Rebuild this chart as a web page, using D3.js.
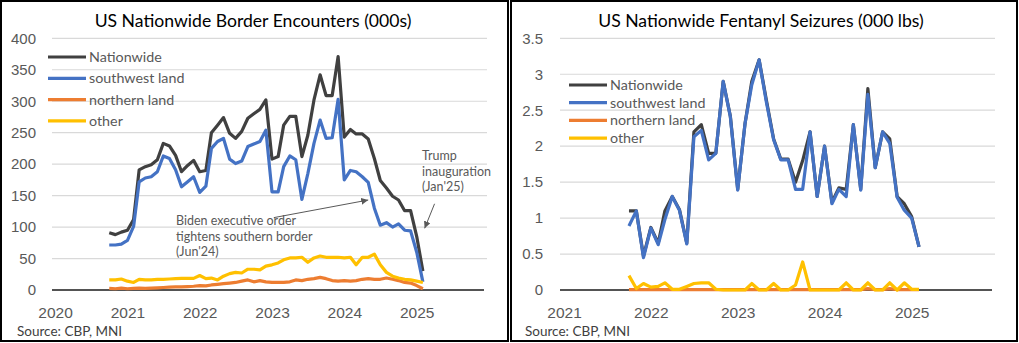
<!DOCTYPE html>
<html>
<head>
<meta charset="utf-8">
<script src="https://cdn.jsdelivr.net/npm/d3@7"></script>
<style>
  body { margin: 0; background: #fff; }
  svg { display: block; font-family: Lato, "Liberation Sans", sans-serif; }
</style>
</head>
<body>
<svg width="1019" height="343"></svg>
<script>
// legend / series
const seriesNames = ["Nationwide", "southwest land", "northern land", "other"];
const seriesColors = ["#404040", "#4472C4", "#ED7D31", "#FFC000"];

// border encounters, thousands, Oct 2020 - Feb 2025
const encMonths = d3.timeMonth.range(new Date(2020, 9, 1), new Date(2025, 2, 2));
const encNationwide = [91,88,92,95,112,191,196,199,207,233,229,214,188,198,206,188,190,250,262,274,249,241,252,273,280,287,302,208,212,262,276,276,212,246,302,342,309,309,371,243,255,248,248,240,209,174,162,149,143,126,126,85,30];
const encSouthwest = [71.5,71.5,73,79,101,172,178,180,188,213,209,191,164,172,180,155,165,225,236,241,208,201,205,228,232,236,254,156,156,196,213,207,144,185,233,270,241,242,303,175,190,188,180,171,130,103,107,100,105,95,94,60,13];
const encNorthern = [2.5,2,3,2,2.5,3,2.5,3,3.5,4,4.5,5,5,5.5,6,7,6.5,8,9,10,11,12,14,16,13,15,13,12,12,12,13,16,15,17,18,20,18,15,14,15,14,15,17,18,17,17,19,17,15,12,11,7,2];
const encOther = [16,16,17.5,14,12,17,16,16,17,17,17.5,18,18.5,18.5,18.5,23,18,19,16,22,26,28,27,33,33,32,38,40,43,48,51,51,52,44,51,54,52,52,52,51,52,40,52,52,57,40,28,22,19,17,16,14,12];
const encYears = [2020, 2021, 2022, 2023, 2024, 2025];
const encYTicks = [0, 50, 100, 150, 200, 250, 300, 350, 400];

// fentanyl seizures, thousand lbs, Oct 2021 - Feb 2025
const fenMonths = d3.timeMonth.range(new Date(2021, 9, 1), new Date(2025, 2, 2));
const fenNationwide = [1.1,1.1,0.47,0.87,0.65,1.1,1.3,1.12,0.65,2.2,2.3,1.9,1.9,2.9,2.42,1.4,2.32,2.9,3.2,2.65,2.1,1.82,1.82,1.5,1.8,2.2,1.3,2.0,1.22,1.42,1.4,2.3,1.4,2.8,1.7,2.2,2.1,1.3,1.2,1.02,0.6];
const fenSouthwest = [0.89,1.1,0.45,0.86,0.63,0.98,1.3,1.11,0.64,2.13,2.22,1.81,1.9,2.9,2.41,1.39,2.32,2.85,3.2,2.62,2.09,1.81,1.81,1.4,1.4,2.2,1.3,2.0,1.2,1.4,1.3,2.3,1.39,2.72,1.7,2.2,2.04,1.29,1.11,1.0,0.6];
const fenNorthern = [0.005,0.005,0.005,0.005,0.005,0.005,0.005,0.005,0.005,0.005,0.005,0.005,0.005,0.005,0.005,0.005,0.005,0.005,0.005,0.005,0.005,0.005,0.005,0.005,0.005,0.005,0.005,0.005,0.005,0.005,0.005,0.005,0.005,0.02,0.005,0.005,0.02,0.005,0.005,0.005,0.005];
const fenOther = [0.2,0.02,0.09,0.04,0.05,0.1,0.01,0.01,0.05,0.09,0.1,0.1,0.01,0,0,0,0,0.09,0,0,0.09,0,0,0.07,0.39,0,0,0,0,0,0.1,0,0,0.1,0,0,0.1,0,0.1,0.01,0.01];
const fenYears = [2021, 2022, 2023, 2024, 2025];
const fenYTicks = [0, 0.5, 1, 1.5, 2, 2.5, 3, 3.5];

const svg = d3.select("svg");

// panel frames
svg.append("rect").attr("x", 1).attr("y", 1).attr("width", 507).attr("height", 340)
  .attr("fill", "none").attr("stroke", "#000").attr("stroke-width", 2);
svg.append("rect").attr("x", 511).attr("y", 1).attr("width", 506).attr("height", 340)
  .attr("fill", "none").attr("stroke", "#000").attr("stroke-width", 2);

function drawPanel(p) {
  const g = svg.append("g");

  const x = d3.scaleTime()
    .domain([new Date(p.years[0], 0, 1), new Date(p.years[p.years.length - 1] + 1, 0, 1)])
    .range(p.xRange);
  const y = d3.scaleLinear()
    .domain([0, p.yTicks[p.yTicks.length - 1]])
    .range([290, 38.3]);

  // gridlines
  g.selectAll(".grid")
    .data(p.yTicks.slice(1))
    .enter()
    .append("line")
    .attr("x1", p.left).attr("x2", p.right)
    .attr("y1", d => y(d)).attr("y2", d => y(d))
    .style("stroke", "#d9d9d9")
    .style("stroke-width", "1.2px");

  // y axis labels
  const yAxis = g.append("g")
    .attr("transform", `translate(${p.left},0)`)
    .call(d3.axisLeft(y).tickValues(p.yTicks).tickSize(0).tickPadding(p.yPad).tickFormat(d3.format("")));
  yAxis.select(".domain").remove();
  yAxis.selectAll("text").style("font-size", "15px").style("fill", "#595959").style("font-family", null);

  // x axis labels
  const xAxis = g.append("g")
    .attr("transform", "translate(0,290)")
    .call(d3.axisBottom(x).tickValues(p.years.map(yr => new Date(yr, 0, 1)))
      .tickSize(0).tickPadding(17).tickFormat(d3.timeFormat("%Y")));
  xAxis.select(".domain").remove();
  xAxis.selectAll("text").style("font-size", "15.5px").style("fill", "#595959").style("font-family", null);

  // baseline
  g.append("line")
    .attr("x1", p.left).attr("x2", p.axisRight)
    .attr("y1", y(0)).attr("y2", y(0))
    .style("stroke", "#1a1a1a")
    .style("stroke-width", "1.5px");

  // series
  const line = d3.line()
    .x((d, i) => x(p.months[i]))
    .y(d => y(d));

  p.series.forEach((s, k) => {
    g.append("path")
      .datum(s)
      .attr("d", line)
      .style("fill", "none")
      .style("stroke", seriesColors[k])
      .style("stroke-width", "3.2px")
      .style("stroke-linejoin", "round");
  });

  // legend
  seriesNames.forEach((name, k) => {
    const ly = p.legendY + k * p.legendStep;
    g.append("line")
      .attr("x1", p.legendX).attr("x2", p.legendX + 38)
      .attr("y1", ly).attr("y2", ly)
      .style("stroke", seriesColors[k])
      .style("stroke-width", "3.2px");
    g.append("text")
      .attr("x", p.legendX + 41).attr("y", ly + 5)
      .style("font-size", "14.3px")
      .style("fill", "#595959")
      .text(name);
  });

  // title
  g.append("text")
    .attr("x", p.titleX).attr("y", 27)
    .attr("text-anchor", "middle")
    .style("font-size", "17.6px")
    .style("fill", "#000")
    .text(p.title);

  // source
  g.append("text")
    .attr("x", p.sourceX).attr("y", 336)
    .style("font-size", "13.5px")
    .style("fill", "#404040")
    .text("Source: CBP, MNI");

  return { g, x, y };
}

const left = drawPanel({
  title: "US Nationwide Border Encounters (000s)",
  titleX: 253,
  months: encMonths,
  series: [encNationwide, encSouthwest, encNorthern, encOther],
  years: encYears,
  yTicks: encYTicks,
  xRange: [55, 489],
  left: 52, right: 487, axisRight: 484,
  yPad: 16,
  legendX: 48, legendY: 57, legendStep: 21.3,
  sourceX: 17
});

drawPanel({
  title: "US Nationwide Fentanyl Seizures (000 lbs)",
  titleX: 761,
  months: fenMonths,
  series: [fenNationwide, fenSouthwest, fenNorthern, fenOther],
  years: fenYears,
  yTicks: fenYTicks,
  xRange: [564, 998.5],
  left: 560, right: 995, axisRight: 992,
  yPad: 17,
  legendX: 569, legendY: 85, legendStep: 17.7,
  sourceX: 525
});

// annotations on the encounters panel
const defs = svg.append("defs");
defs.append("marker")
  .attr("id", "arrow")
  .attr("viewBox", "0 0 10 10")
  .attr("refX", 10).attr("refY", 5)
  .attr("markerWidth", 7).attr("markerHeight", 7)
  .attr("orient", "auto")
  .append("path")
  .attr("d", "M0,0 L10,5 L0,10 z")
  .style("fill", "#595959");

const notes = [
  { lines: ["Trump", "inauguration", "(Jan'25)"], x: 422, y: 160,
    from: [new Date(2025, 3, 1), 137], to: [new Date(2025, 1, 10), 98] },
  { lines: ["Biden executive order", "tightens southern border", "(Jun'24)"], x: 176, y: 225,
    from: [new Date(2023, 0, 10), 115], to: [new Date(2024, 4, 1), 143] }
];

notes.forEach(n => {
  const t = left.g.append("text")
    .attr("x", n.x).attr("y", n.y)
    .style("font-size", "12.5px")
    .style("fill", "#595959");
  n.lines.forEach((l, i) => {
    t.append("tspan").attr("x", n.x).attr("dy", i === 0 ? 0 : 15.6).text(l);
  });
  left.g.append("line")
    .attr("x1", left.x(n.from[0])).attr("y1", left.y(n.from[1]))
    .attr("x2", left.x(n.to[0])).attr("y2", left.y(n.to[1]))
    .style("stroke", "#595959")
    .style("stroke-width", "1px")
    .attr("marker-end", "url(#arrow)");
});
</script>
</body>
</html>
